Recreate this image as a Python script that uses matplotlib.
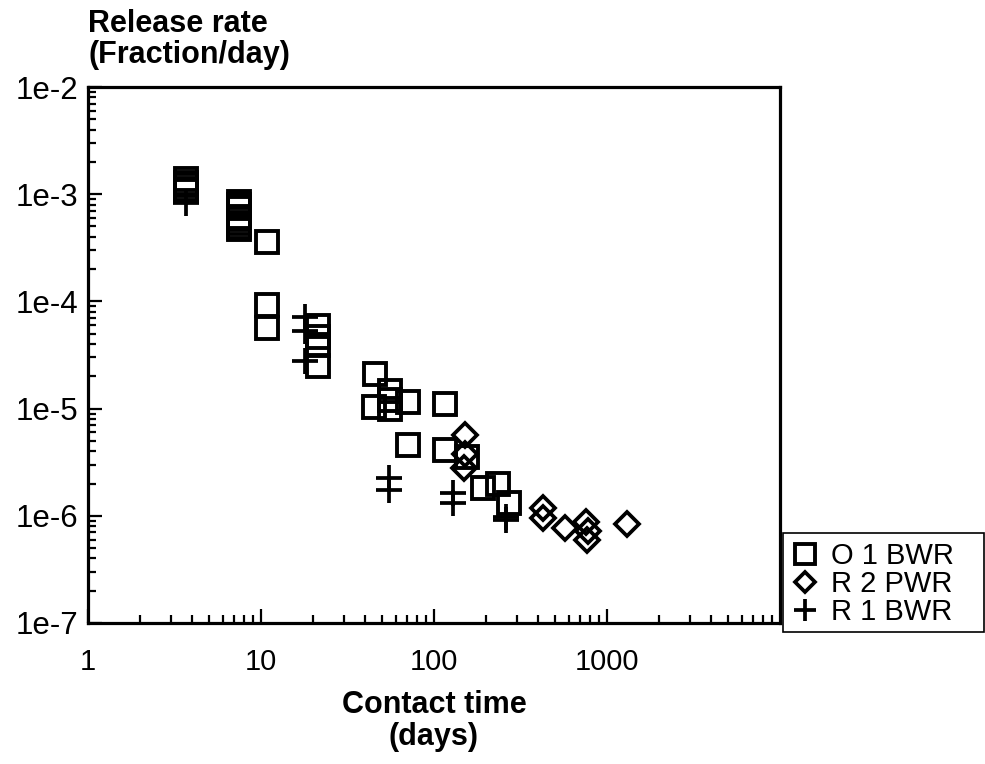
import matplotlib.pyplot as plt
from matplotlib.patches import Rectangle
from matplotlib.ticker import FixedLocator, LogLocator, NullFormatter

plt.rcParams['font.family'] = ['Liberation Sans', 'DejaVu Sans']

# === Data (contact time in days, release rate in fraction/day) ===

o1_bwr_days = [3.7, 3.7, 3.7, 3.7, 3.7,
               7.46, 7.46, 7.46, 7.46, 7.46, 7.46, 7.46, 7.46,
               10.8, 10.8, 10.8,
               21.3, 21.3, 21.3, 21.3,
               45.8, 45.0, 55.7, 55.7, 55.7, 70.8, 116,
               70.5, 115, 155, 193, 234, 272]
o1_bwr_rate = [1.39e-3, 1.27e-3, 1.22e-3, 1.12e-3, 1.07e-3,
               8.46e-4, 7.93e-4, 7.44e-4, 6.13e-4, 5.87e-4, 5.39e-4, 4.94e-4, 4.74e-4,
               3.55e-4, 9.2e-5, 5.7e-5,
               5.9e-5, 4.7e-5, 3.9e-5, 2.5e-5,
               2.1e-5, 1.03e-5, 1.46e-5, 1.2e-5, 9.9e-6, 1.14e-5, 1.1e-5,
               4.57e-6, 4.1e-6, 3.57e-6, 1.82e-6, 2.0e-6, 1.33e-6]

r2_pwr_days = [151, 152, 150, 427, 427, 568, 755, 775, 765, 1306]
r2_pwr_rate = [5.7e-6, 3.8e-6, 2.8e-6, 1.18e-6, 9.6e-7, 7.7e-7,
               8.8e-7, 7.2e-7, 5.9e-7, 8.4e-7]

r1_bwr_days = [3.7, 17.9, 17.9, 17.9, 55.3, 55.3, 128, 128, 262, 262]
r1_bwr_rate = [8.3e-4, 7.1e-5, 5.3e-5, 2.78e-5, 2.25e-6, 1.74e-6,
               1.63e-6, 1.32e-6, 9.8e-7, 9.2e-7]

x_ticks = [1, 10, 100, 1000]
x_labels = ['1', '10', '100', '1000']
y_ticks = [1e-7, 1e-6, 1e-5, 1e-4, 1e-3, 1e-2]
y_labels = ['1e-7', '1e-6', '1e-5', '1e-4', '1e-3', '1e-2']

# === Figure ===

fig = plt.figure(figsize=(9.85, 7.64), dpi=100)
ax = fig.add_axes([88 / 985, 1 - 623 / 764, (780 - 88) / 985, (623 - 87) / 764])
ax.set_xscale('log')
ax.set_yscale('log')
ax.set_xlim(1, 1e4)
ax.set_ylim(1e-7, 1e-2)

ax.plot(o1_bwr_days, o1_bwr_rate, linestyle='none', marker='s', ms=16.5,
        mfc='none', mec='black', mew=2.8, label='O 1 BWR')
ax.plot(r2_pwr_days, r2_pwr_rate, linestyle='none', marker='D', ms=12.5,
        mfc='none', mec='black', mew=2.7, label='R 2 PWR')
ax.plot(r1_bwr_days, r1_bwr_rate, linestyle='none', marker='+', ms=19,
        mec='black', mew=2.7, label='R 1 BWR')

ax.xaxis.set_major_locator(FixedLocator(x_ticks))
ax.set_xticklabels(x_labels)
ax.xaxis.set_minor_locator(LogLocator(base=10, subs=range(2, 10), numticks=20))
ax.xaxis.set_minor_formatter(NullFormatter())
ax.yaxis.set_major_locator(FixedLocator(y_ticks))
ax.set_yticklabels(y_labels)
ax.yaxis.set_minor_locator(LogLocator(base=10, subs=range(2, 10), numticks=20))
ax.yaxis.set_minor_formatter(NullFormatter())

ax.tick_params(which='both', direction='in', top=False, right=False, width=1.6)
ax.tick_params(which='major', length=10)
ax.tick_params(which='minor', length=6)
ax.tick_params(axis='x', pad=18, labelsize=21)
ax.tick_params(axis='y', pad=7, labelsize=22.5)
for s in ax.spines.values():
    s.set_linewidth(2.3)

fig.text(88 / 985, 1 - 9 / 764, 'Release rate\n(Fraction/day)', fontsize=22,
         fontweight='bold', ha='left', va='top', linespacing=1.05)
fig.text(434 / 985, 1 - 721 / 764, 'Contact time\n(days)', fontsize=22,
         fontweight='bold', ha='center', va='center', linespacing=1.1)

# legend box runs to the right edge of the picture
fig.patches.append(Rectangle((783 / 985, 1 - 632 / 764), 201 / 985, 99 / 764,
                             transform=fig.transFigure, fill=False,
                             edgecolor='black', linewidth=1.2))
leg = fig.legend(loc='upper left', bbox_to_anchor=(783 / 985, 1 - 533 / 764),
                 fontsize=21, frameon=False, markerscale=0.85,
                 handlelength=0.9, handletextpad=0.45, borderpad=0.3,
                 labelspacing=0.0, borderaxespad=0)

fig.savefig('out.png', dpi=100)
